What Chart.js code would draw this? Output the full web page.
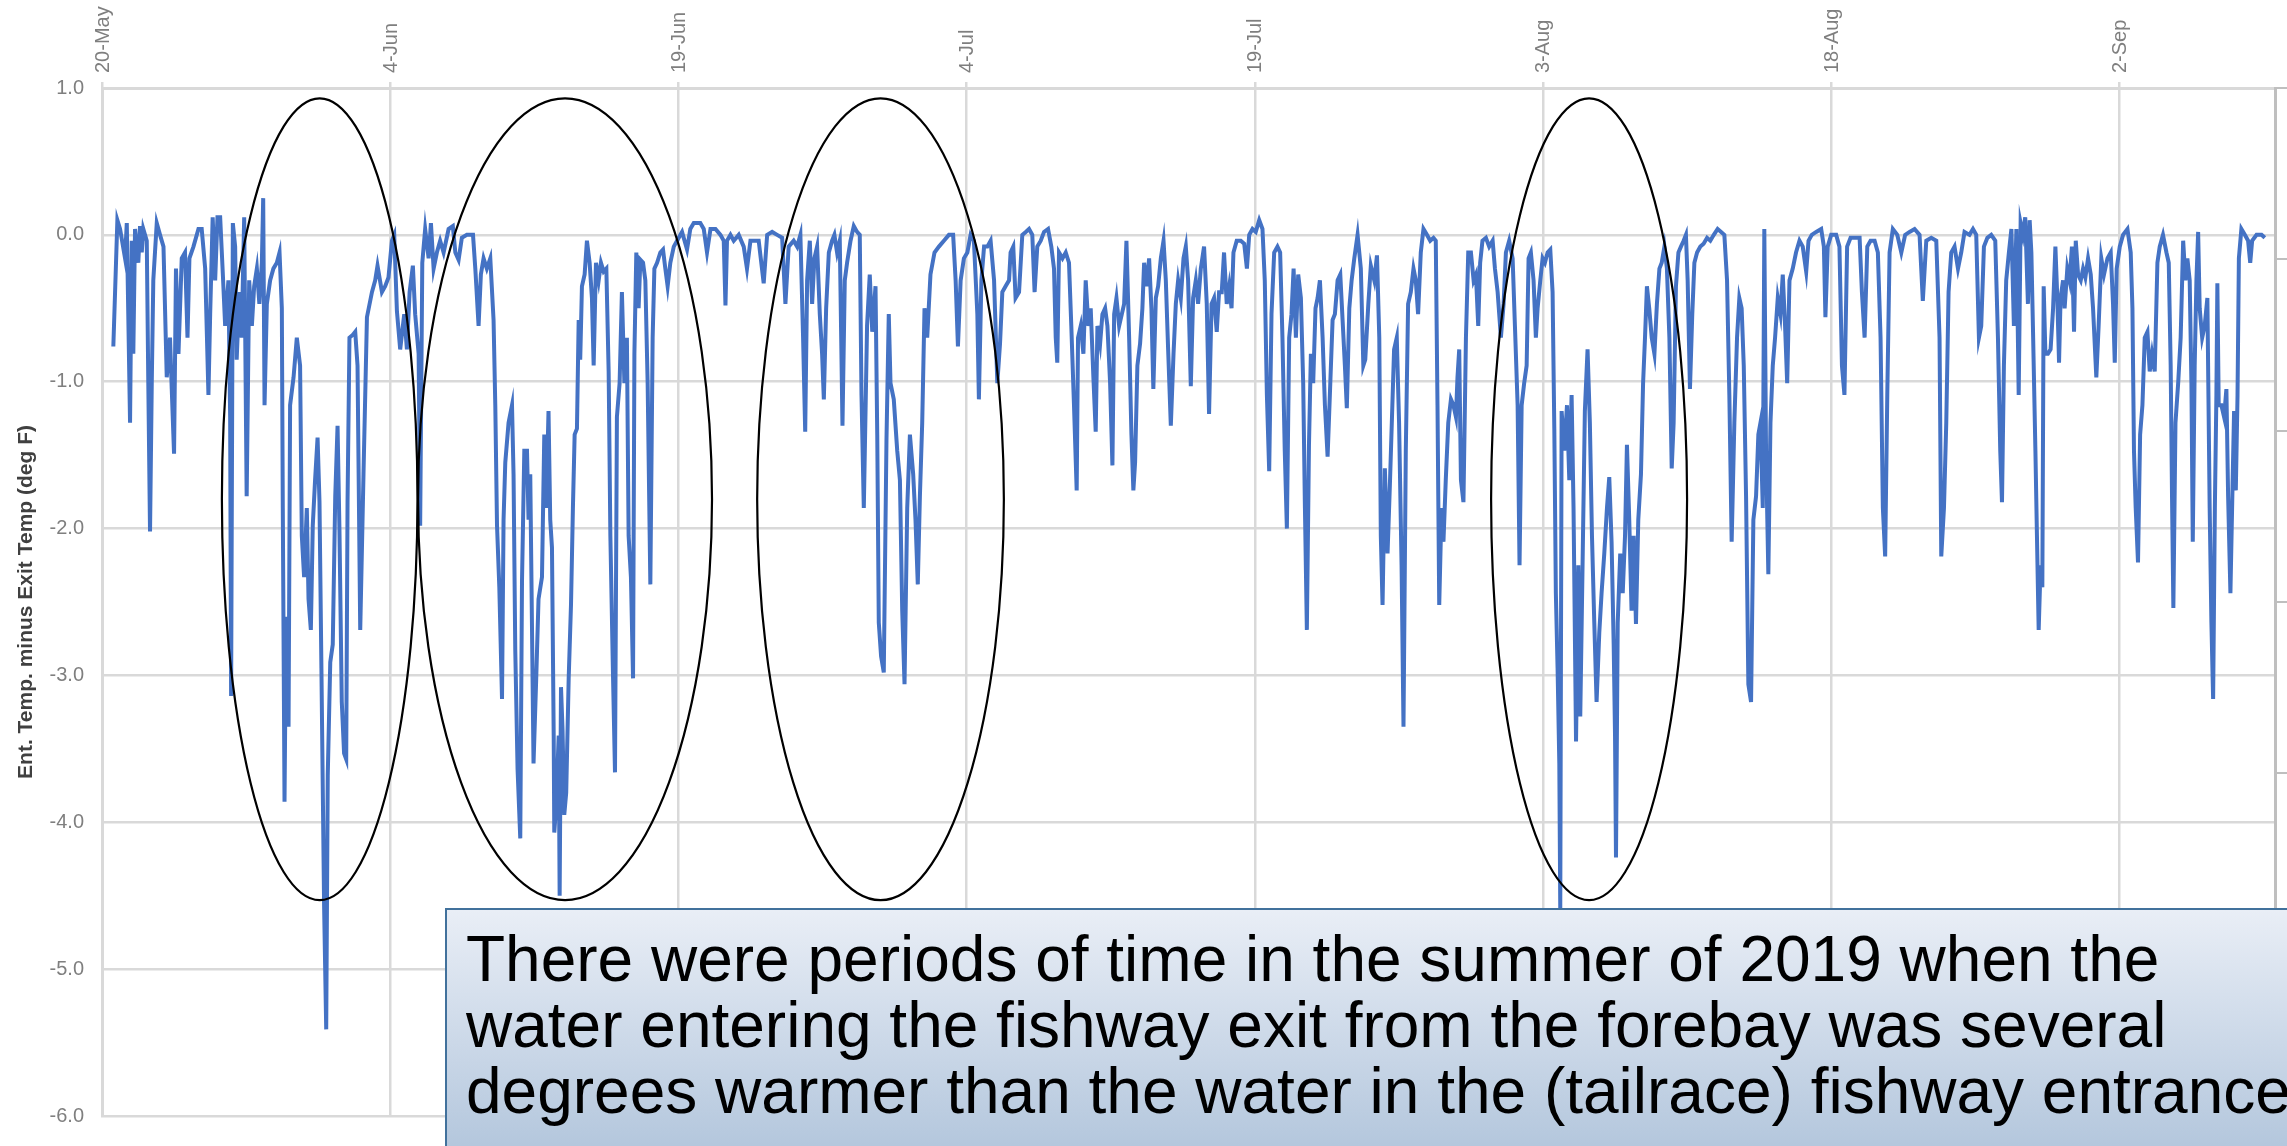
<!DOCTYPE html>
<html>
<head>
<meta charset="utf-8">
<title>Ent. Temp. minus Exit Temp</title>
<script src="https://cdn.jsdelivr.net/npm/chart.js@4.4.0/dist/chart.umd.min.js"></script>
<style>
body{margin:0;background:#fff;overflow:hidden;}
#wrap{position:relative;width:2287px;height:1146px;overflow:hidden;}
#myChart{position:absolute;left:0;top:0;}
#note{position:absolute;left:445px;top:908px;width:1900px;height:240px;box-sizing:border-box;
border:2px solid #41719c;background:linear-gradient(#e9eef6,#b4c7dd);
font-family:"Liberation Sans",Arial,sans-serif;font-size:64px;line-height:66px;color:#000;
padding:16px 0 0 19px;white-space:nowrap;}
</style>
</head>
<body>
<div id="wrap">
<canvas id="myChart" width="2287" height="1146"></canvas>
<div id="note">There were periods of time in the summer of 2019 when the<br>water entering the fishway exit from the forebay was several<br>degrees warmer than the water in the (tailrace) fishway entrance</div>
</div>
<script>
'use strict';
// x axis in days after 20-May-2019
let tickDays=[0,15,30,45,60,75,90,105];
let tickLabels=['20-May','4-Jun','19-Jun','4-Jul','19-Jul','3-Aug','18-Aug','2-Sep'];
let yTicks=[1,0,-1,-2,-3,-4,-5,-6];

// readings
let days=[
0.59,0.80,0.94,1.20,1.29,1.46,1.55,1.63,1.72,1.89,
1.98,2.07,2.15,2.33,2.41,2.50,2.59,2.67,2.85,3.02,
3.20,3.37,3.54,3.63,3.75,3.85,3.98,4.15,4.32,4.45,
4.55,4.76,5.02,5.19,5.37,5.54,5.63,5.76,5.89,6.01,
6.15,6.29,6.41,6.58,6.67,6.72,6.81,6.93,7.01,7.15,
7.27,7.40,7.53,7.66,7.80,7.92,8.06,8.19,8.32,8.39,
8.46,8.58,8.75,8.92,9.10,9.24,9.36,9.41,9.50,9.58,
9.71,9.79,9.97,10.14,10.31,10.40,10.52,10.66,10.75,10.87,
10.97,11.09,11.22,11.32,11.42,11.56,11.67,11.75,11.88,12.01,
12.14,12.26,12.36,12.48,12.60,12.71,12.78,12.88,13.06,13.18,
13.30,13.44,13.61,13.79,14.05,14.22,14.34,14.57,14.74,14.91,
15.09,15.21,15.35,15.52,15.73,15.87,16.01,16.18,16.30,16.48,
16.56,16.67,16.82,17.00,17.12,17.26,17.43,17.60,17.78,18.04,
18.26,18.39,18.56,18.73,18.99,19.31,19.43,19.60,19.72,19.86,
20.03,20.21,20.38,20.47,20.56,20.68,20.82,20.90,20.99,21.16,
21.34,21.42,21.51,21.63,21.77,21.86,21.98,22.12,22.20,22.29,
22.46,22.60,22.72,22.90,23.02,23.12,23.24,23.33,23.42,23.51,
23.54,23.64,23.77,23.82,23.89,23.97,24.06,24.16,24.29,24.41,
24.51,24.60,24.72,24.81,24.89,24.98,25.12,25.24,25.38,25.50,
25.59,25.71,25.85,25.97,26.11,26.25,26.37,26.46,26.60,26.70,
26.80,26.94,27.06,27.19,27.32,27.41,27.53,27.64,27.71,27.81,
27.93,28.02,28.16,28.28,28.40,28.54,28.66,28.75,28.89,29.06,
29.20,29.32,29.44,29.58,29.76,29.93,30.19,30.45,30.62,30.80,
30.97,31.14,31.32,31.49,31.67,31.93,32.19,32.36,32.45,32.53,
32.71,32.88,33.14,33.40,33.57,33.75,33.96,34.18,34.44,34.62,
34.88,35.14,35.40,35.57,35.74,36.00,36.18,36.35,36.49,36.60,
36.70,36.84,36.96,37.08,37.22,37.36,37.48,37.57,37.69,37.83,
38.00,38.12,38.26,38.40,38.54,38.66,38.78,38.96,39.13,39.30,
39.44,39.53,39.65,39.82,39.96,40.09,40.26,40.35,40.43,40.55,
40.69,40.83,40.95,41.04,41.21,41.39,41.53,41.65,41.77,41.91,
42.05,42.22,42.34,42.46,42.57,42.69,42.81,42.95,43.12,43.33,
43.56,43.82,44.08,44.30,44.43,44.55,44.69,44.86,45.04,45.21,
45.38,45.56,45.64,45.77,45.91,46.08,46.25,46.43,46.60,46.74,
46.86,47.03,47.21,47.29,47.43,47.55,47.73,47.90,48.08,48.25,
48.42,48.54,48.68,48.86,49.03,49.24,49.41,49.55,49.64,49.72,
49.81,49.99,50.16,50.33,50.45,50.59,50.73,50.80,50.94,51.08,
51.20,51.34,51.46,51.60,51.72,51.81,51.95,52.07,52.21,52.33,
52.47,52.59,52.68,52.80,52.94,53.08,53.20,53.32,53.46,53.58,
53.68,53.77,53.89,54.03,54.15,54.24,54.38,54.50,54.62,54.72,
54.85,54.97,55.11,55.25,55.37,55.49,55.63,55.77,55.89,56.01,
56.15,56.29,56.41,56.53,56.67,56.79,56.93,57.05,57.19,57.36,
57.50,57.62,57.75,57.88,58.02,58.14,58.28,58.40,58.54,58.67,
58.79,58.89,59.06,59.27,59.45,59.59,59.71,59.88,60.05,60.23,
60.40,60.52,60.63,60.75,60.87,61.01,61.18,61.32,61.44,61.56,
61.67,61.79,61.91,62.02,62.14,62.26,62.40,62.52,62.61,62.71,
62.82,62.92,63.04,63.16,63.27,63.39,63.53,63.65,63.79,63.93,
64.05,64.17,64.31,64.45,64.57,64.69,64.79,64.92,65.04,65.18,
65.35,65.52,65.65,65.75,65.91,66.04,66.22,66.36,66.48,66.56,
66.65,66.77,66.91,67.03,67.25,67.39,67.51,67.64,67.74,67.86,
67.98,68.12,68.26,68.38,68.50,68.64,68.78,68.96,69.13,69.30,
69.42,69.51,69.60,69.72,69.82,69.94,70.07,70.21,70.34,70.47,
70.55,70.64,70.73,70.86,70.99,71.11,71.25,71.39,71.51,71.63,
71.73,71.85,72.03,72.20,72.38,72.50,72.64,72.81,72.95,73.07,
73.24,73.42,73.54,73.68,73.78,73.89,74.02,74.15,74.25,74.37,
74.51,74.63,74.72,74.86,74.98,75.10,75.24,75.38,75.50,75.59,
75.67,75.76,75.85,75.90,75.97,76.11,76.25,76.37,76.49,76.59,
76.72,76.84,76.94,77.06,77.18,77.32,77.44,77.55,77.67,77.79,
77.93,78.05,78.19,78.33,78.45,78.57,78.68,78.75,78.80,78.89,
79.02,79.15,79.27,79.37,79.49,79.61,79.72,79.84,79.96,80.10,
80.21,80.31,80.41,80.53,80.66,80.80,80.93,81.06,81.18,81.32,
81.45,81.58,81.70,81.80,81.92,82.05,82.18,82.32,82.44,82.53,
82.65,82.77,82.88,83.02,83.19,83.36,83.54,83.71,83.89,84.09,
84.27,84.44,84.58,84.70,84.82,84.96,85.10,85.22,85.34,85.45,
85.57,85.69,85.83,85.95,86.09,86.21,86.32,86.44,86.52,86.61,
86.73,86.84,86.96,87.08,87.22,87.36,87.48,87.60,87.71,87.83,
88.00,88.17,88.35,88.52,88.70,88.82,88.99,89.22,89.48,89.62,
89.70,89.82,90.00,90.26,90.43,90.56,90.69,90.83,91.01,91.22,
91.48,91.60,91.74,91.88,92.05,92.26,92.43,92.57,92.69,92.81,
92.92,93.04,93.21,93.44,93.65,93.85,94.08,94.34,94.60,94.77,
94.95,95.21,95.47,95.64,95.73,95.87,95.99,96.11,96.25,96.42,
96.60,96.77,96.94,97.20,97.38,97.55,97.69,97.81,97.95,98.13,
98.33,98.54,98.68,98.80,98.89,98.99,99.11,99.25,99.38,99.51,
99.64,99.76,99.86,99.98,100.10,100.24,100.33,100.42,100.50,100.63,
100.71,100.80,100.90,100.99,101.06,101.15,101.28,101.42,101.55,101.67,
101.77,101.86,101.94,102.07,102.15,102.29,102.41,102.53,102.64,102.73,
102.85,102.99,103.11,103.23,103.37,103.51,103.63,103.80,103.92,104.06,
104.20,104.38,104.55,104.67,104.76,104.86,105.02,105.19,105.42,105.59,
105.68,105.76,105.85,105.97,106.08,106.20,106.32,106.46,106.58,106.70,
106.84,106.98,107.10,107.27,107.45,107.57,107.67,107.74,107.81,107.92,
108.06,108.19,108.32,108.44,108.54,108.66,108.75,108.82,108.92,109.01,
109.10,109.18,109.31,109.44,109.58,109.70,109.79,109.88,109.97,110.05,
110.10,110.17,110.31,110.45,110.57,110.66,110.78,110.89,110.97,111.06,
111.15,111.22,111.35,111.53,111.70,111.81,111.91,112.14,112.40,112.57
];
let tempDiff=[
-0.76,0.10,0.04,-0.16,0.08,-1.28,-0.04,-0.81,0.04,-0.19,
0.06,-0.12,0.04,-0.04,-1.01,-2.02,-1.01,-0.31,0.08,0.00,
-0.08,-0.97,-0.70,-1.05,-1.49,-0.23,-0.81,-0.16,-0.12,-0.70,
-0.16,-0.08,0.04,0.04,-0.23,-1.09,-0.54,0.12,-0.31,0.12,
0.12,-0.27,-0.62,-0.31,-1.24,-3.14,0.08,-0.08,-0.85,-0.39,
-0.70,0.12,-1.78,-0.31,-0.62,-0.35,-0.23,-0.47,-0.19,0.25,
-1.16,-0.47,-0.31,-0.23,-0.19,-0.12,-0.50,-1.86,-3.86,-2.60,
-3.35,-1.16,-0.97,-0.70,-0.89,-2.05,-2.33,-1.86,-2.48,-2.69,
-1.98,-1.67,-1.38,-1.82,-2.95,-4.57,-5.41,-3.68,-2.91,-2.79,
-1.78,-1.30,-2.02,-3.18,-3.53,-3.57,-1.82,-0.70,-0.68,-0.66,
-0.89,-2.69,-1.63,-0.56,-0.39,-0.31,-0.21,-0.39,-0.35,-0.29,
-0.04,0.00,-0.52,-0.78,-0.54,-0.78,-0.39,-0.21,-0.54,-0.81,
-1.98,-0.19,0.04,-0.16,0.08,-0.23,-0.12,-0.04,-0.12,0.04,
0.06,-0.12,-0.17,-0.02,0.00,0.00,-0.23,-0.62,-0.27,-0.16,
-0.23,-0.16,-0.58,-1.16,-1.98,-2.40,-3.16,-1.94,-1.55,-1.28,
-1.16,-1.63,-2.83,-3.64,-4.11,-2.36,-1.47,-1.47,-1.94,-1.63,
-3.60,-3.02,-2.48,-2.33,-1.36,-1.86,-1.20,-1.94,-2.13,-3.41,
-4.07,-3.88,-3.41,-4.50,-3.08,-3.37,-3.95,-3.80,-3.02,-2.52,
-1.86,-1.36,-1.32,-0.58,-0.85,-0.35,-0.27,-0.04,-0.19,-0.43,
-0.89,-0.19,-0.31,-0.19,-0.25,-0.23,-0.93,-2.05,-3.02,-3.66,
-1.24,-1.01,-0.39,-1.01,-0.70,-2.05,-2.33,-3.02,-0.81,-0.12,
-0.50,-0.17,-0.19,-0.31,-1.01,-2.38,-0.70,-0.23,-0.19,-0.12,
-0.10,-0.23,-0.35,-0.19,-0.08,-0.04,0.02,-0.10,0.04,0.08,
0.08,0.08,0.04,-0.12,0.04,0.04,0.00,-0.04,-0.48,-0.04,
0.00,-0.04,0.00,-0.08,-0.23,-0.04,-0.04,-0.04,-0.33,0.00,
0.02,0.00,-0.02,-0.47,-0.08,-0.04,-0.08,0.00,-0.70,-1.34,
-0.31,-0.04,-0.47,-0.16,-0.08,-0.54,-0.81,-1.12,-0.50,-0.12,
-0.04,0.00,-0.12,-0.04,-1.30,-0.31,-0.19,-0.04,0.06,0.02,
0.00,-1.09,-1.86,-0.62,-0.27,-0.66,-0.35,-1.36,-2.64,-2.87,
-2.98,-1.40,-0.54,-1.01,-1.12,-1.47,-1.67,-2.56,-3.06,-1.86,
-1.36,-1.63,-1.94,-2.38,-1.78,-1.28,-0.50,-0.70,-0.27,-0.12,
-0.08,-0.04,0.00,0.00,-0.31,-0.76,-0.31,-0.16,-0.12,0.00,
-0.04,-0.54,-1.12,-0.31,-0.08,-0.08,-0.04,-0.31,-1.01,-0.74,
-0.39,-0.35,-0.31,-0.12,-0.08,-0.43,-0.39,0.00,0.02,0.04,
0.00,-0.39,-0.08,-0.04,0.02,0.04,-0.08,-0.23,-0.70,-0.87,
-0.12,-0.16,-0.12,-0.19,-0.62,-1.16,-1.74,-0.70,-0.62,-0.81,
-0.31,-0.62,-0.50,-0.97,-1.34,-0.62,-0.74,-0.54,-0.50,-0.62,
-1.01,-1.57,-0.54,-0.43,-0.62,-0.54,-0.47,-0.04,-0.70,-1.36,
-1.74,-1.55,-0.89,-0.74,-0.50,-0.19,-0.35,-0.16,-0.50,-1.05,
-0.43,-0.35,-0.16,-0.04,-0.31,-0.78,-1.30,-0.81,-0.47,-0.31,
-0.43,-0.16,-0.08,-0.31,-1.03,-0.43,-0.31,-0.47,-0.23,-0.08,
-0.47,-1.22,-0.47,-0.43,-0.66,-0.39,-0.39,-0.12,-0.47,-0.35,
-0.50,-0.12,-0.04,-0.04,-0.06,-0.23,0.00,0.04,0.02,0.10,
0.04,-0.31,-1.09,-1.61,-0.54,-0.12,-0.08,-0.12,-0.70,-1.47,
-2.00,-0.70,-0.54,-0.23,-0.70,-0.27,-0.43,-1.01,-1.86,-2.69,
-1.43,-0.81,-1.01,-0.50,-0.43,-0.31,-0.70,-1.16,-1.51,-1.01,
-0.58,-0.54,-0.31,-0.27,-0.58,-0.89,-1.18,-0.50,-0.31,-0.16,
0.00,-0.23,-0.89,-0.85,-0.47,-0.21,-0.31,-0.14,-0.70,-2.05,
-2.52,-1.59,-2.17,-1.71,-0.78,-0.70,-1.28,-2.25,-3.35,-1.47,
-0.47,-0.39,-0.23,-0.31,-0.54,-0.12,0.04,0.00,-0.04,-0.02,
-0.04,-1.16,-2.52,-1.86,-2.09,-1.67,-1.28,-1.12,-1.16,-1.24,
-0.97,-0.78,-1.67,-1.82,-0.70,-0.12,-0.12,-0.31,-0.27,-0.62,
-0.19,-0.04,-0.02,-0.08,-0.04,-0.23,-0.39,-0.70,-0.47,-0.12,
-0.04,-0.16,-0.62,-1.16,-2.25,-1.16,-1.01,-0.89,-0.16,-0.12,
-0.31,-0.70,-0.50,-0.31,-0.16,-0.19,-0.12,-0.10,-0.39,-1.32,
-2.44,-2.95,-3.60,-4.60,-1.20,-1.47,-1.16,-1.67,-1.09,-1.86,
-3.45,-2.25,-3.28,-2.25,-1.20,-0.78,-1.28,-2.05,-2.64,-3.18,
-2.71,-2.44,-2.17,-1.86,-1.65,-2.09,-2.79,-3.41,-4.24,-2.64,
-2.17,-2.44,-2.05,-1.43,-1.94,-2.56,-2.05,-2.65,-1.94,-1.63,
-1.01,-0.70,-0.35,-0.50,-0.70,-0.81,-0.47,-0.23,-0.19,-0.08,
-0.23,-0.70,-1.59,-1.28,-0.35,-0.12,-0.08,-0.04,0.00,-0.31,
-1.05,-0.54,-0.19,-0.12,-0.08,-0.06,-0.02,-0.04,0.00,0.04,
0.02,0.00,-0.31,-1.09,-2.09,-1.28,-0.70,-0.43,-0.50,-0.89,
-1.78,-3.06,-3.18,-1.94,-1.78,-1.36,-1.28,-1.86,0.04,-1.47,
-2.31,-1.28,-0.89,-0.70,-0.43,-0.54,-0.27,-0.62,-1.01,-0.31,
-0.23,-0.12,-0.04,-0.08,-0.25,-0.04,0.00,0.02,0.04,-0.08,
-0.56,-0.08,0.00,0.00,-0.08,-0.89,-1.09,-0.08,-0.02,-0.02,
-0.02,-0.39,-0.70,-0.08,-0.04,-0.04,-0.12,-0.70,-1.86,-2.19,
-1.09,-0.12,0.04,0.00,-0.12,0.00,0.02,0.04,0.00,-0.45,
-0.04,-0.02,-0.04,-0.70,-2.19,-1.86,-1.28,-0.39,-0.12,-0.08,
-0.23,-0.12,0.02,0.00,0.04,0.00,-0.70,-0.62,-0.08,-0.02,
0.00,-0.04,-0.70,-1.47,-1.82,-0.89,-0.31,-0.12,0.04,-0.62,
0.04,-1.09,0.08,0.00,0.12,-0.47,0.10,-0.12,-0.62,-1.47,
-2.05,-2.69,-2.25,-2.40,-0.35,-0.81,-0.81,-0.78,-0.50,-0.08,
-0.43,-0.87,-0.43,-0.31,-0.50,-0.23,-0.31,-0.08,-0.66,-0.04,
-0.27,-0.31,-0.23,-0.29,-0.16,-0.27,-0.50,-0.97,-0.62,-0.16,
-0.27,-0.16,-0.12,-0.47,-0.87,-0.23,-0.08,0.00,0.04,-0.12,
-0.50,-1.47,-1.86,-2.23,-1.36,-1.16,-0.70,-0.66,-0.93,-0.81,
-0.93,-0.19,-0.08,0.00,-0.12,-0.19,-0.89,-1.78,-2.54,-1.28,
-1.01,-0.70,-0.04,-0.31,-0.16,-0.31,-1.01,-2.09,-0.89,-0.31,
0.02,-0.50,-0.70,-0.62,-0.43,-1.86,-2.64,-3.16,-1.86,-1.09,
-0.33,-1.16,-1.16,-1.24,-1.05,-1.78,-2.44,-1.71,-1.20,-1.74,
-1.09,-0.16,0.04,0.00,-0.04,-0.19,-0.04,0.00,0.00,-0.02
];

// circled periods (centre day, half width in days)
let circleDays=[11.33,24.10,40.52,77.40];
let circleHalfWidth=[5.09,7.65,6.42,5.10];
let circleMid=-1.80;
let circleHalfHeight=2.73;

let points=[];
for(let i=0;i<days.length;i++)
{
    points.push({x:days[i],y:tempDiff[i]});
}

let circlePlugin={
    id:'circles',
    afterDraw(chart)
    {
        let ctx=chart.ctx;
        let xs=chart.scales.x;
        let ys=chart.scales.y;
        ctx.save();
        ctx.strokeStyle='#000';
        ctx.lineWidth=2.2;
        for(let i=0;i<circleDays.length;i++)
        {
            let cx=xs.getPixelForValue(circleDays[i]);
            let rx=xs.getPixelForValue(circleDays[i]+circleHalfWidth[i])-cx;
            let cy=ys.getPixelForValue(circleMid);
            let ry=ys.getPixelForValue(circleMid-circleHalfHeight)-cy;
            ctx.beginPath();
            ctx.ellipse(cx,cy,rx,ry,0,0,Math.PI*2);
            ctx.stroke();
        }
        ctx.restore();
    }
};

let ctx=document.getElementById('myChart').getContext('2d');
let myChart=new Chart(ctx,{
    type:'line',
    data:{
        datasets:[{
            label:'Ent. Temp. minus Exit Temp',
            data:points,
            borderColor:'#4472c4',
            borderWidth:4,
            pointRadius:0,
            tension:0,
            fill:false
        }]
    },
    options:{
        responsive:false,
        animation:false,
        devicePixelRatio:1,
        layout:{padding:{top:0,bottom:18,left:0,right:0}},
        plugins:{legend:{display:false},tooltip:{enabled:false}},
        scales:{
            x:{
                type:'linear',
                position:'top',
                min:0,
                max:113.1,
                afterBuildTicks:function(axis){axis.ticks=tickDays.map(function(d){return {value:d};});},
                afterFit:function(axis){axis.height=88;},
                ticks:{
                    autoSkip:false,
                    minRotation:90,
                    maxRotation:90,
                    padding:9,
                    labelOffset:25,
                    color:'#7f7f7f',
                    font:{family:'"Liberation Sans", Arial, sans-serif',size:20},
                    callback:function(v){return tickLabels[tickDays.indexOf(v)];}
                },
                grid:{color:'#d9d9d9',lineWidth:2.5,tickLength:6},
                border:{color:'#d9d9d9',width:3}
            },
            y:{
                position:'left',
                min:-6,
                max:1,
                afterBuildTicks:function(axis){axis.ticks=yTicks.map(function(v){return {value:v};});},
                afterFit:function(axis){axis.width=102;},
                ticks:{
                    padding:18,
                    color:'#7f7f7f',
                    font:{family:'"Liberation Sans", Arial, sans-serif',size:20},
                    callback:function(v){return v.toFixed(1);}
                },
                grid:{color:'#d9d9d9',lineWidth:2.5,drawTicks:false},
                border:{color:'#d9d9d9',width:3}
                ,title:{
                    display:true,
                    text:'Ent. Temp. minus Exit Temp (deg F)',
                    color:'#404040',
                    padding:{top:14,bottom:0},
                    font:{family:'"Liberation Sans", Arial, sans-serif',size:21,weight:'bold'}
                }
            },
            y2:{
                position:'right',
                min:0,
                max:6,
                afterBuildTicks:function(axis){axis.ticks=[0,1,2,3,4,5,6].map(function(v){return {value:v};});},
                afterFit:function(axis){axis.width=12;},
                ticks:{display:false},
                grid:{drawOnChartArea:false,color:'#bfbfbf',lineWidth:2,tickLength:12},
                border:{color:'#bfbfbf',width:3}
            }
        }
    },
    plugins:[circlePlugin]
});
</script>
</body>
</html>
